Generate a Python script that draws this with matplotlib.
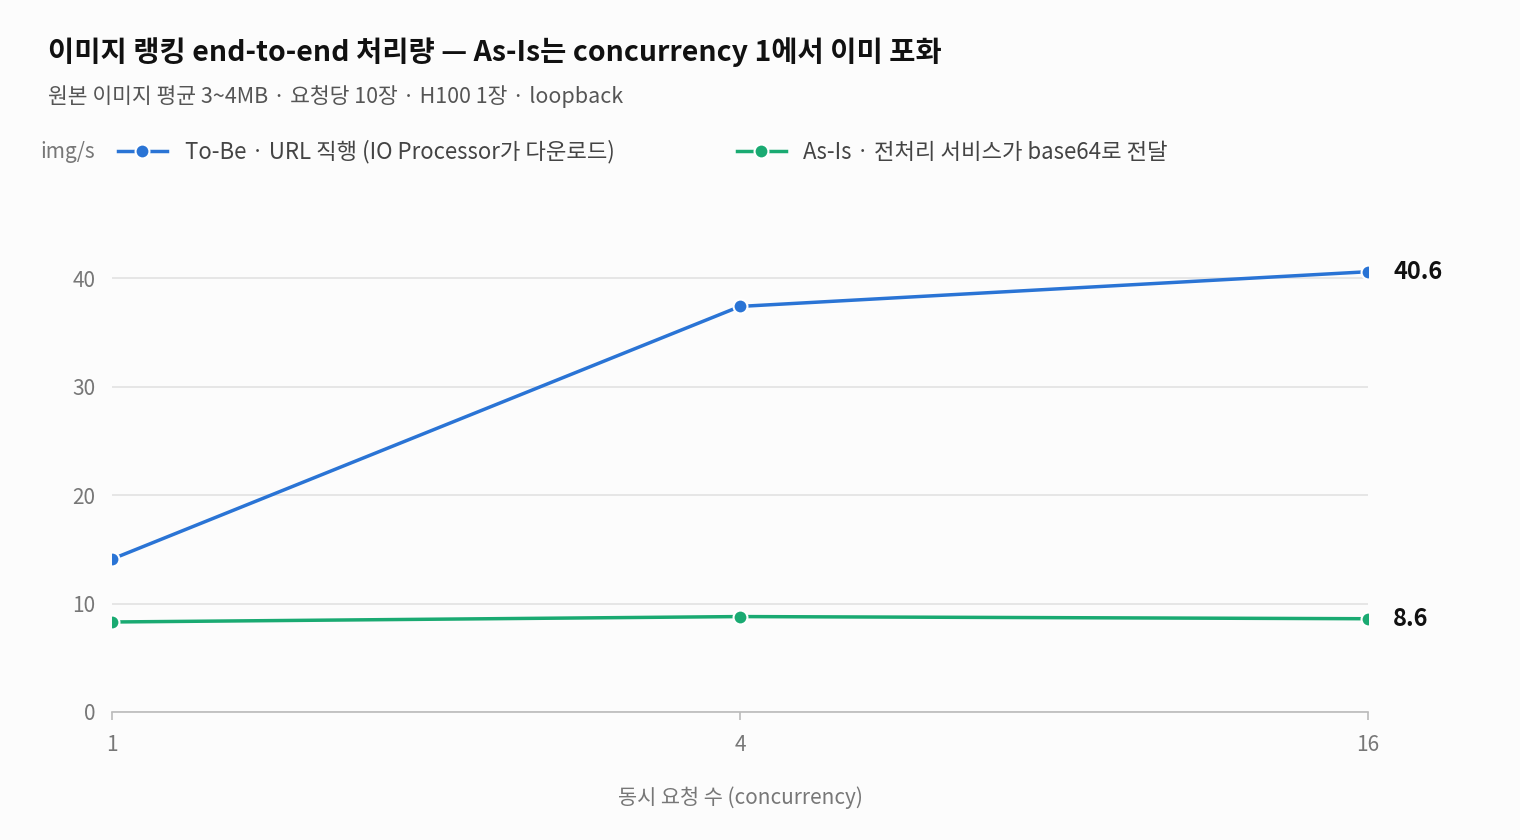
import matplotlib
matplotlib.use("Agg")
import matplotlib.pyplot as plt

plt.rcParams['font.family'] = ['Noto Sans CJK KR', 'DejaVu Sans']

categories = ["1", "4", "16"]
tobe = [14.1, 37.4, 40.6]
asis = [8.3, 8.8, 8.6]
yticks = [0, 10, 20, 30, 40]

bg = "#fcfcfc"
fig = plt.figure(figsize=(15.2, 8.4), dpi=100, facecolor=bg)
ax = fig.add_axes([112/1520, 128/840, (1368-112)/1520, (712-224)/840], facecolor=bg)
x = list(range(len(categories)))
blue, green = "#2a74d5", "#1aaa72"
ax.plot(x, tobe, color=blue, lw=2.5, marker='o', ms=10, mec='white', mew=1.5, label="To-Be · URL 직행 (IO Processor가 다운로드)", zorder=3)
ax.plot(x, asis, color=green, lw=2.5, marker='o', ms=10, mec='white', mew=1.5, label="As-Is · 전처리 서비스가 base64로 전달", zorder=3)
ax.text(x[-1]+0.04, tobe[-1], f"{tobe[-1]}", fontsize=17, fontweight='bold', va='center', color='#111')
ax.text(x[-1]+0.04, asis[-1], f"{asis[-1]}", fontsize=17, fontweight='bold', va='center', color='#111')

ax.set_xlim(0, 2)
ax.set_ylim(0, 45)
ax.set_xticks(x, categories)
ax.set_yticks(yticks)
ax.grid(axis='y', color='#e2e2e2', lw=1.2)
ax.set_axisbelow(True)
for s in ['top', 'right', 'left']:
    ax.spines[s].set_visible(False)
ax.spines['bottom'].set_color('#bbbbbb')
ax.spines['bottom'].set_linewidth(1.2)
ax.tick_params(axis='both', colors='#777777', labelsize=15, length=0, pad=12)
ax.tick_params(axis='x', length=6, color='#bbbbbb', width=1.2, pad=10)
ax.set_xlabel("동시 요청 수 (concurrency)", fontsize=15, color='#777777', labelpad=22)

fig.text(48/1520, 1-52/840, "이미지 랭킹 end-to-end 처리량 — As-Is는 concurrency 1에서 이미 포화", fontsize=20.5, fontweight='bold', va='center', color='#111')
fig.text(48/1520, 1-97/840, "원본 이미지 평균 3~4MB · 요청당 10장 · H100 1장 · loopback", fontsize=15.5, va='center', color='#555')
fig.text(40/1520, 1-152/840, "img/s", fontsize=15, va='center', color='#777')
leg = fig.legend(loc='center left', bbox_to_anchor=(98/1520, 1-152/840), ncol=2, frameon=False,
                 fontsize=16, handlelength=2.2, columnspacing=5.5, labelcolor='#444')
fig.savefig("out.png", dpi=100, facecolor=bg)
